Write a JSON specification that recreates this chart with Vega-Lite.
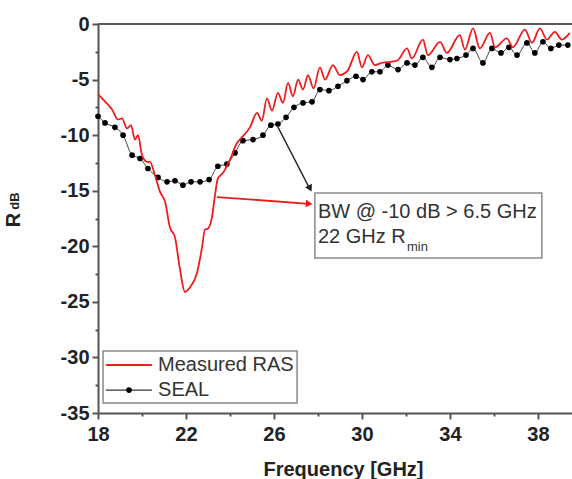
{
  "$schema": "https://vega.github.io/schema/vega-lite/v6.json",
  "autosize": "none",
  "padding": {"left": 98, "top": 24, "right": 0, "bottom": 66},
  "width": 474,
  "height": 389,
  "background": "white",
  "config": {"font": "Liberation Sans", "view": {"stroke": null}},
  "datasets": {
    "ras": [
      {"f": 18.0, "db": -6.3}, {"f": 18.09, "db": -6.5}, {"f": 18.64, "db": -7.7}, {"f": 18.91, "db": -8.6}, {"f": 19.09, "db": -8.5},
      {"f": 19.32, "db": -9.4}, {"f": 19.5, "db": -9.1}, {"f": 19.68, "db": -10.4}, {"f": 19.82, "db": -10.0}, {"f": 20.0, "db": -11.8},
      {"f": 20.23, "db": -12.4}, {"f": 20.36, "db": -12.4}, {"f": 20.59, "db": -13.6}, {"f": 20.82, "db": -15.1}, {"f": 21.05, "db": -16.0},
      {"f": 21.27, "db": -18.3}, {"f": 21.5, "db": -19.2}, {"f": 21.73, "db": -22.1}, {"f": 21.95, "db": -24.1}, {"f": 22.18, "db": -23.7},
      {"f": 22.5, "db": -22.4}, {"f": 22.73, "db": -20.1}, {"f": 22.86, "db": -18.5}, {"f": 23.0, "db": -18.4}, {"f": 23.18, "db": -17.4},
      {"f": 23.32, "db": -15.4}, {"f": 23.45, "db": -13.9}, {"f": 23.68, "db": -13.4}, {"f": 24.0, "db": -12.2}, {"f": 24.32, "db": -10.7},
      {"f": 24.45, "db": -10.4}, {"f": 24.91, "db": -9.3}, {"f": 25.23, "db": -8.0}, {"f": 25.45, "db": -8.7}, {"f": 25.68, "db": -6.7},
      {"f": 25.91, "db": -7.8}, {"f": 26.18, "db": -6.2}, {"f": 26.41, "db": -7.1}, {"f": 26.64, "db": -5.3}, {"f": 26.86, "db": -6.5},
      {"f": 27.1, "db": -5.0}, {"f": 27.32, "db": -5.9}, {"f": 27.55, "db": -4.6}, {"f": 27.8, "db": -5.8}, {"f": 28.09, "db": -3.9},
      {"f": 28.32, "db": -5.0}, {"f": 28.68, "db": -3.7}, {"f": 29.0, "db": -4.6}, {"f": 29.35, "db": -4.2}, {"f": 29.77, "db": -2.5},
      {"f": 30.0, "db": -3.9}, {"f": 30.27, "db": -2.8}, {"f": 30.59, "db": -3.7},
      {"f": 30.9, "db": -3.5}, {"f": 31.27, "db": -3.4}, {"f": 31.6, "db": -3.3}, {"f": 32.05, "db": -2.2}, {"f": 32.27, "db": -3.1}, {"f": 32.77, "db": -1.4},
      {"f": 33.0, "db": -2.8}, {"f": 33.55, "db": -1.6}, {"f": 33.86, "db": -2.6}, {"f": 34.45, "db": -1.0}, {"f": 34.68, "db": -2.3},
      {"f": 35.05, "db": -0.4}, {"f": 35.36, "db": -2.2}, {"f": 35.82, "db": -0.8}, {"f": 36.05, "db": -2.1}, {"f": 36.59, "db": -1.3},
      {"f": 36.86, "db": -2.1}, {"f": 37.41, "db": -0.5}, {"f": 37.73, "db": -1.7}, {"f": 38.09, "db": -0.4}, {"f": 38.41, "db": -1.4},
      {"f": 38.77, "db": -0.7}, {"f": 39.09, "db": -1.4}, {"f": 39.45, "db": -0.8}
    ],
    "seal": [
      {"f": 18.0, "db": -8.3}, {"f": 18.32, "db": -8.9}, {"f": 18.77, "db": -9.3}, {"f": 19.14, "db": -10.0}, {"f": 19.55, "db": -11.8},
      {"f": 19.91, "db": -12.1}, {"f": 20.27, "db": -13.0}, {"f": 20.73, "db": -13.8}, {"f": 21.14, "db": -14.2}, {"f": 21.5, "db": -14.1},
      {"f": 21.86, "db": -14.5}, {"f": 22.23, "db": -14.2}, {"f": 22.64, "db": -14.2}, {"f": 23.05, "db": -14.0}, {"f": 23.45, "db": -12.8},
      {"f": 23.86, "db": -12.6}, {"f": 24.23, "db": -11.6}, {"f": 24.59, "db": -10.5}, {"f": 25.05, "db": -10.4}, {"f": 25.5, "db": -10.0},
      {"f": 25.86, "db": -9.1}, {"f": 26.18, "db": -9.0}, {"f": 26.55, "db": -8.4}, {"f": 26.91, "db": -7.5}, {"f": 27.32, "db": -7.1},
      {"f": 27.73, "db": -7.0}, {"f": 28.09, "db": -5.9}, {"f": 28.5, "db": -6.0}, {"f": 28.91, "db": -5.6}, {"f": 29.32, "db": -5.1},
      {"f": 29.73, "db": -4.7}, {"f": 30.05, "db": -5.0}, {"f": 30.45, "db": -4.3}, {"f": 30.82, "db": -4.3}, {"f": 31.18, "db": -3.7},
      {"f": 31.64, "db": -4.1}, {"f": 32.05, "db": -3.5}, {"f": 32.41, "db": -3.7}, {"f": 32.77, "db": -3.0}, {"f": 33.18, "db": -3.9},
      {"f": 33.55, "db": -3.0}, {"f": 34.0, "db": -3.2}, {"f": 34.32, "db": -3.1}, {"f": 34.73, "db": -2.8}, {"f": 35.05, "db": -2.2},
      {"f": 35.5, "db": -3.5}, {"f": 35.91, "db": -2.2}, {"f": 36.32, "db": -2.6}, {"f": 36.68, "db": -2.1}, {"f": 37.05, "db": -2.8},
      {"f": 37.5, "db": -1.7}, {"f": 37.86, "db": -2.6}, {"f": 38.23, "db": -1.6}, {"f": 38.59, "db": -2.2}, {"f": 38.95, "db": -1.9},
      {"f": 39.36, "db": -1.9}
    ],
    "spine": [{"f": 18, "f2": 39.55, "db": 0}],
    "box": [{"f": 27.86, "f2": 38.18, "db": -15.21, "db2": -21.06}],
    "legendBox": [{"f": 18.23, "f2": 27.05, "db": -29.43, "db2": -34.11}],
    "redArrow": [{"f": 23.41, "db": -15.57, "f2": 27.6, "db2": -16.18}],
    "redHead": [{"f": 27.6, "db": -16.17}],
    "blackArrow": [{"f": 26.18, "db": -9.27, "f2": 27.62, "db2": -14.8}],
    "blackHead": [{"f": 27.64, "db": -14.8}],
    "legRed": [{"f": 18.36, "f2": 20.45, "db": -30.69}],
    "legSeal": [{"f": 18.36, "f2": 20.45, "db": -32.94}],
    "legDot": [{"f": 19.41, "db": -32.94}],
    "legText": [{"f": 20.73, "db": -30.69, "t": "Measured RAS"}, {"f": 20.73, "db": -32.94, "t": "SEAL"}],
    "boxText": [{"f": 28.0, "db": -17.46, "t": "BW @ -10 dB > 6.5 GHz"}, {"f": 28.0, "db": -19.71, "t": "22 GHz R"}],
    "subText": [{"f": 32.05, "db": -20.43, "t": "min"}],
    "yTitle": [{"f": 14.18, "db": -17.64, "t": "R"}],
    "ySub": [{"f": 14.22, "db": -15.93, "t": "dB"}]
  },
  "encoding": {
    "x": {
      "field": "f", "type": "quantitative",
      "scale": {"domain": [18, 39.55], "nice": false, "zero": false},
      "axis": {
        "values": [18, 20, 22, 24, 26, 28, 30, 32, 34, 36, 38],
        "labelExpr": "datum.value % 4 == 2 ? '' + datum.value : ''",
        "tickSize": {"condition": {"test": "datum.value % 4 != 2", "value": 3}, "value": 6},
        "grid": false,
        "domainColor": "#555555", "domainWidth": 2,
        "tickColor": "#555555", "tickWidth": 2,
        "labelFontSize": 20, "labelFontWeight": "bold", "labelColor": "#222222",
        "labelPadding": 5, "labelFlush": false, "labelOverlap": false,
        "title": "Frequency [GHz]", "titleFontSize": 20, "titleFontWeight": "bold", "titleColor": "#222222",
        "titleX": 245, "titleY": 46, "titleAlign": "center", "titleBaseline": "top"
      }
    },
    "y": {
      "field": "db", "type": "quantitative",
      "scale": {"domain": [-35, 0], "nice": false, "zero": false},
      "axis": {
        "values": [0, -2.5, -5, -7.5, -10, -12.5, -15, -17.5, -20, -22.5, -25, -27.5, -30, -32.5, -35],
        "labelExpr": "datum.value % 5 == 0 ? '' + datum.value : ''",
        "tickSize": {"condition": {"test": "datum.value % 5 != 0", "value": 3}, "value": 6},
        "grid": false,
        "domainColor": "#555555", "domainWidth": 2,
        "tickColor": "#555555", "tickWidth": 2,
        "labelFontSize": 20, "labelFontWeight": "bold", "labelColor": "#222222",
        "labelPadding": 3, "labelFlush": false, "labelOverlap": false,
        "title": null
      }
    }
  },
  "layer": [
    {"data": {"name": "spine"}, "mark": {"type": "rule", "color": "#5a5a5a", "strokeWidth": 2}, "encoding": {"x2": {"field": "f2"}}},
    {"data": {"name": "box"}, "mark": {"type": "rect", "fill": "white", "stroke": "#8a8a8a", "strokeWidth": 1.5}, "encoding": {"x2": {"field": "f2"}, "y2": {"field": "db2"}}},
    {"data": {"name": "legendBox"}, "mark": {"type": "rect", "fill": "white", "stroke": "#8a8a8a", "strokeWidth": 1.5}, "encoding": {"x2": {"field": "f2"}, "y2": {"field": "db2"}}},
    {"data": {"name": "seal"}, "mark": {"type": "line", "color": "#444444", "strokeWidth": 1, "interpolate": "monotone"}},
    {"data": {"name": "seal"}, "mark": {"type": "point", "filled": true, "color": "black", "size": 32, "opacity": 1}},
    {"data": {"name": "ras"}, "mark": {"type": "line", "color": "#ee1d1d", "strokeWidth": 1.8, "interpolate": "monotone"}},
    {"data": {"name": "redArrow"}, "mark": {"type": "rule", "color": "#ee1d1d", "strokeWidth": 1.8}, "encoding": {"x2": {"field": "f2"}, "y2": {"field": "db2"}}},
    {"data": {"name": "redHead"}, "mark": {"type": "point", "shape": "triangle-right", "filled": true, "color": "#ee1d1d", "size": 60, "angle": 4, "opacity": 1}},
    {"data": {"name": "blackArrow"}, "mark": {"type": "rule", "color": "#222222", "strokeWidth": 1.5}, "encoding": {"x2": {"field": "f2"}, "y2": {"field": "db2"}}},
    {"data": {"name": "blackHead"}, "mark": {"type": "point", "shape": "triangle-down", "filled": true, "color": "#222222", "size": 60, "angle": -28, "opacity": 1}},
    {"data": {"name": "legRed"}, "mark": {"type": "rule", "color": "#ee1d1d", "strokeWidth": 2}, "encoding": {"x2": {"field": "f2"}}},
    {"data": {"name": "legSeal"}, "mark": {"type": "rule", "color": "#333333", "strokeWidth": 1.2}, "encoding": {"x2": {"field": "f2"}}},
    {"data": {"name": "legDot"}, "mark": {"type": "point", "filled": true, "color": "black", "size": 32, "opacity": 1}},
    {"data": {"name": "legText"}, "mark": {"type": "text", "align": "left", "baseline": "middle", "fontSize": 20, "color": "#333333"}, "encoding": {"text": {"field": "t"}}},
    {"data": {"name": "boxText"}, "mark": {"type": "text", "align": "left", "baseline": "alphabetic", "fontSize": 20, "color": "#333333"}, "encoding": {"text": {"field": "t"}}},
    {"data": {"name": "subText"}, "mark": {"type": "text", "align": "left", "baseline": "alphabetic", "fontSize": 13, "color": "#333333"}, "encoding": {"text": {"field": "t"}}},
    {"data": {"name": "yTitle"}, "mark": {"type": "text", "align": "center", "baseline": "middle", "fontSize": 20, "fontWeight": "bold", "color": "#222222", "angle": 270}, "encoding": {"text": {"field": "t"}}},
    {"data": {"name": "ySub"}, "mark": {"type": "text", "align": "center", "baseline": "middle", "fontSize": 13, "fontWeight": "bold", "color": "#222222", "angle": 270}, "encoding": {"text": {"field": "t"}}}
  ]
}
